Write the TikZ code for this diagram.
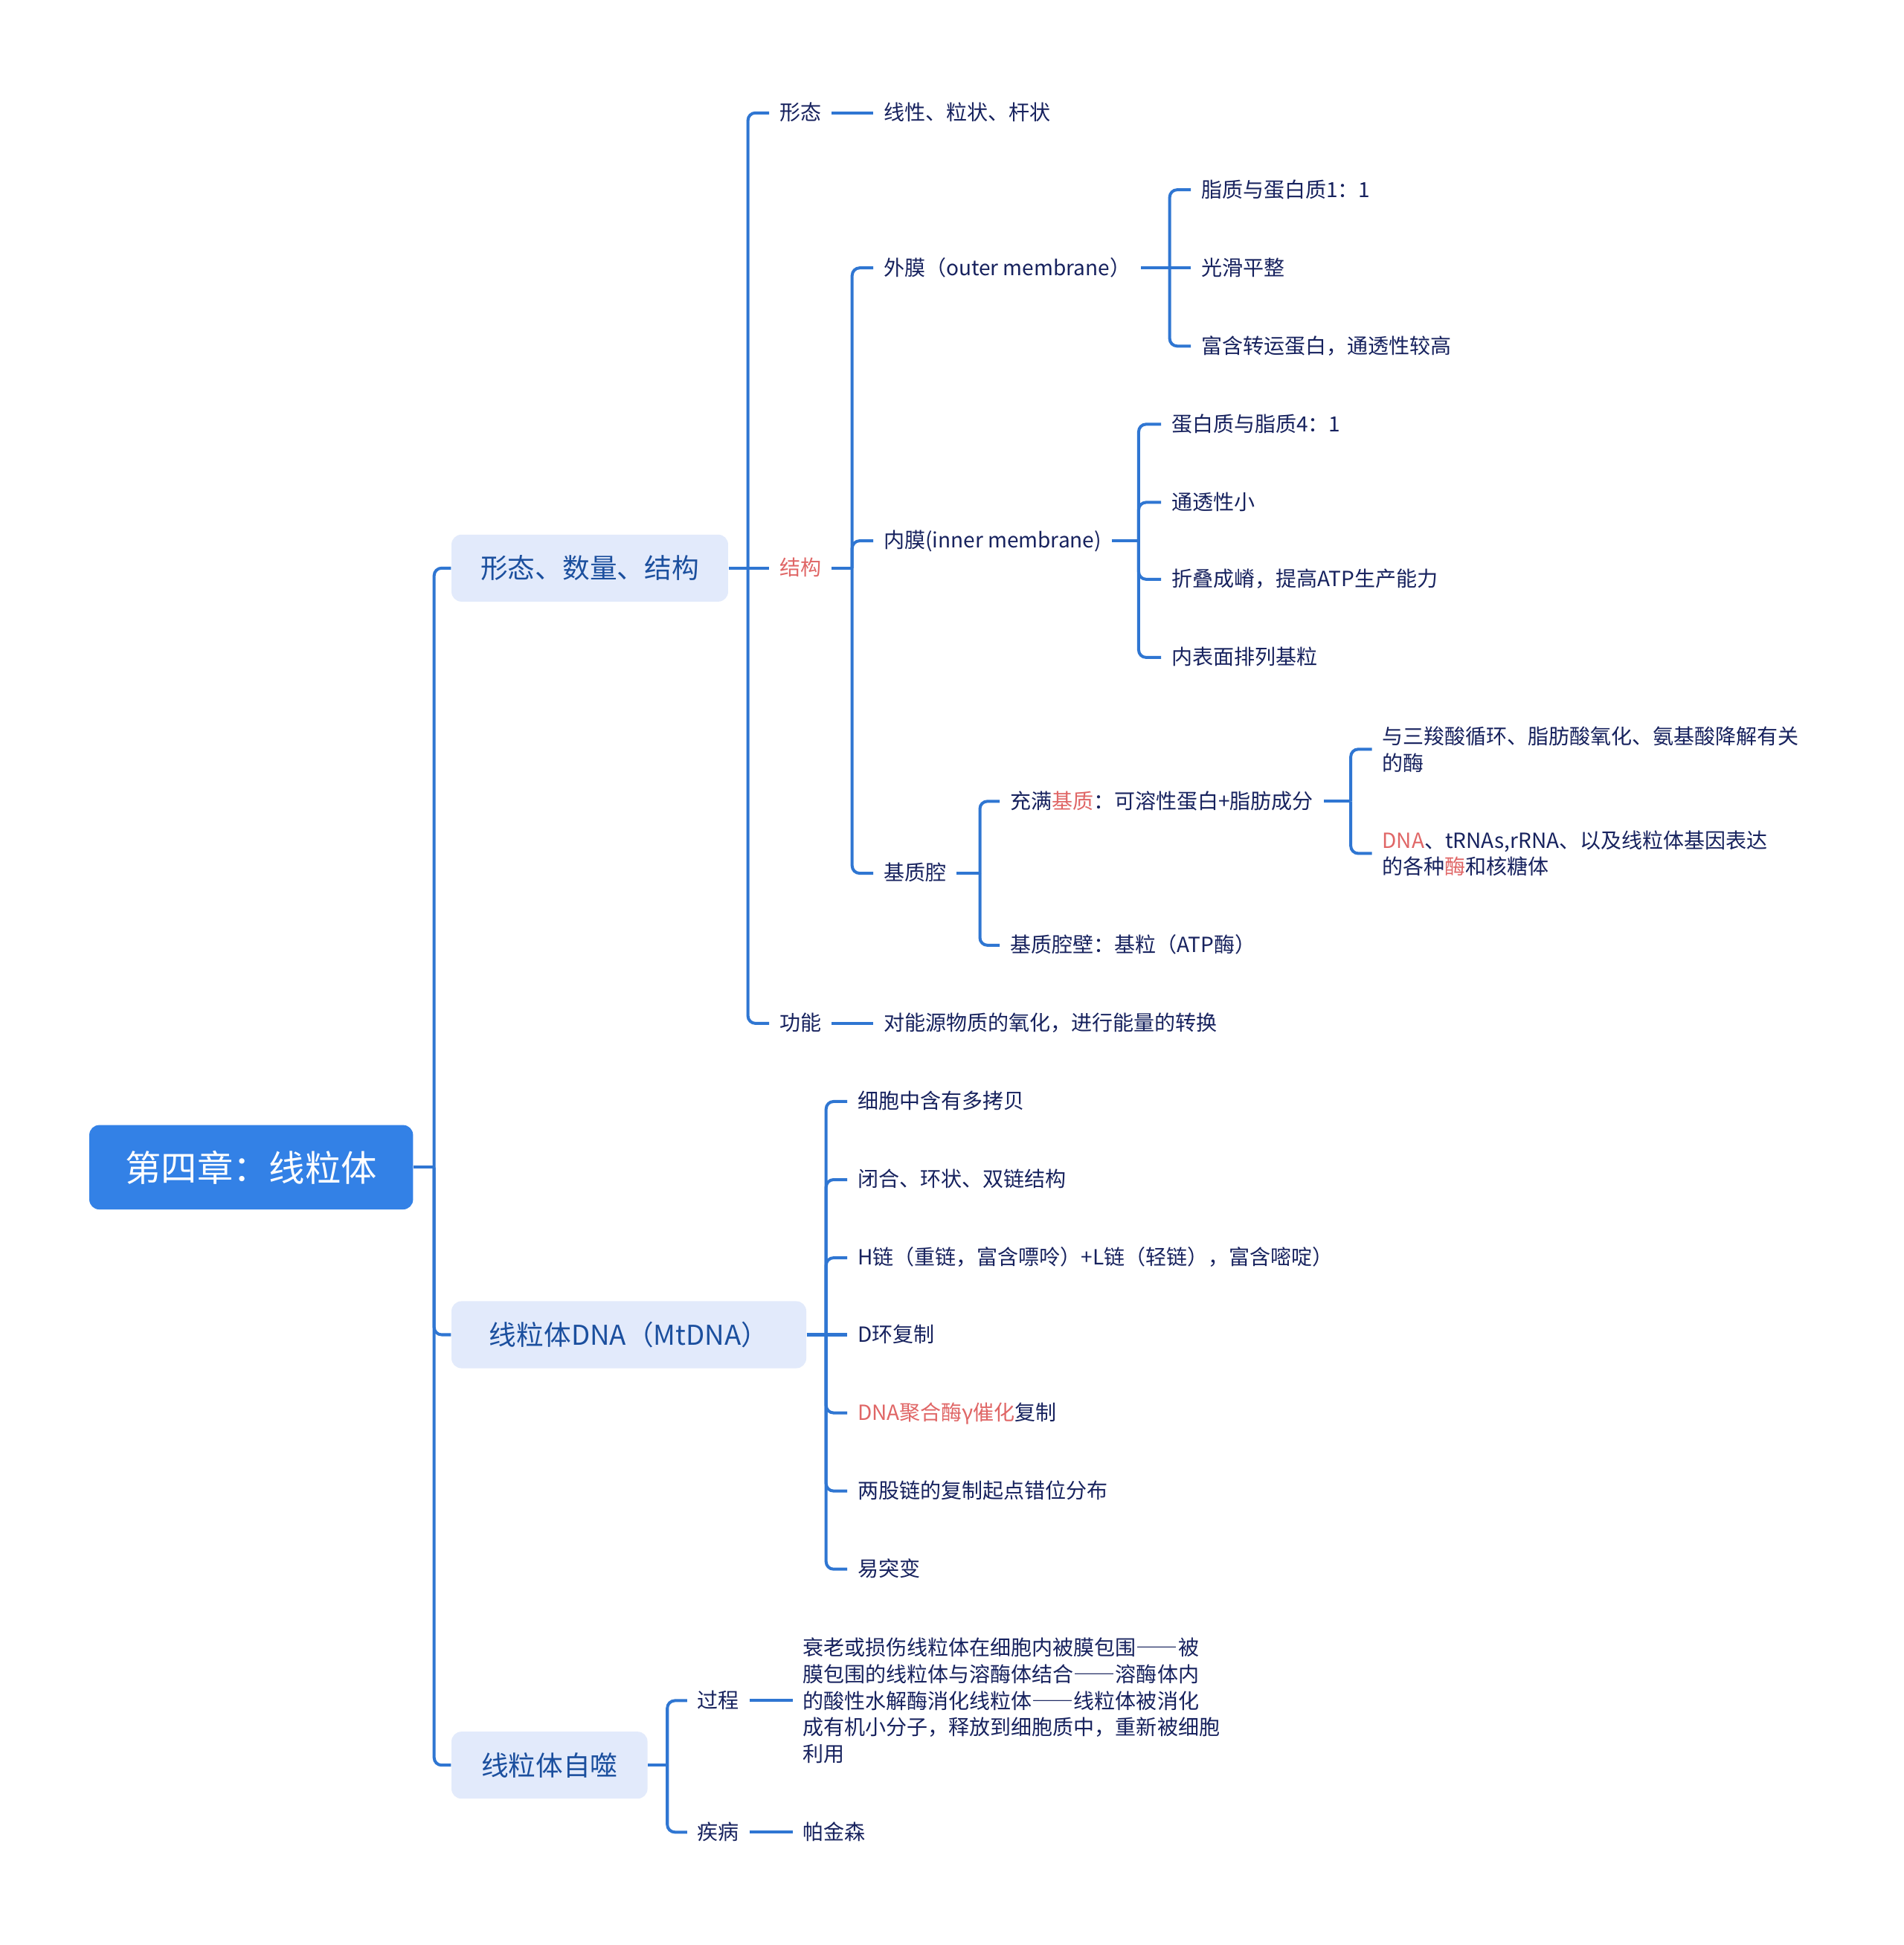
\documentclass[tikz,border=0pt]{standalone}
\usepackage{fontspec}
\setmainfont{Noto Sans CJK SC}
\usepackage{xcolor}
\usepackage{tikz}
\usetikzlibrary{positioning}

\definecolor{linkblue}{HTML}{2F76D2}
\definecolor{rootblue}{HTML}{3381E6}
\definecolor{topicfill}{HTML}{E2EAFB}
\definecolor{topicblue}{HTML}{1B4F9E}
\definecolor{leafnavy}{HTML}{17225E}
\definecolor{hotred}{HTML}{E06666}
\newcommand{\hot}[1]{\textcolor{hotred}{#1}}
\newcommand{\longdash}{{\addfontfeature{RawFeature=+fwid}——}}

\begin{document}
\begin{tikzpicture}[
      x=0.5pt, y=-0.5pt,
      mainbox/.style={fill=rootblue, text=white, rounded corners=4pt,
                      font=\fontsize{14.5}{17}\selectfont, inner sep=0pt,
                      minimum width=130.5pt, minimum height=34pt},
      topicbox/.style={fill=topicfill, text=topicblue, rounded corners=4pt,
                       font=\fontsize{11}{13}\selectfont, inner sep=0pt,
                       minimum height=27pt},
      leaf/.style={anchor=west, text=leafnavy, inner xsep=4pt, inner ysep=1pt,
                   font=\fontsize{8.4}{10.75}\selectfont,
                   text height=6.8pt, text depth=0.9pt},
      leafpara/.style={anchor=west, text=leafnavy, inner xsep=4pt, inner ysep=0pt,
                       font=\fontsize{8.4}{10.75}\selectfont, align=left},
      link/.style={draw=linkblue, line width=1.2pt, rounded corners=3pt}]

    \fill[white] (0,0) rectangle (1535,1568);

    % root and main topics
    \node[mainbox] (chapter) at (202.5,941) {第四章：线粒体};
    \node[topicbox, minimum width=111.5pt] (shape) at (475.5,458) {形态、数量、结构};
    \node[topicbox, minimum width=143pt] (mtdna) at (507,1076) {线粒体DNA（MtDNA）};
    \node[topicbox, minimum width=79pt] (autophagy) at (443,1423) {线粒体自噬};

    \coordinate (chapterfork) at (350,941);
    \draw[link] (chapter.east) -- (chapterfork);
    \foreach \t in {shape,mtdna,autophagy}
      \draw[link] (chapterfork) |- (\t.west);

    % form, number, structure
    \node[leaf] (form) at (620,91) {形态};
    \node[leaf, text=hotred] (struct) at (620,458) {结构};
    \node[leaf] (func) at (620,825) {功能};
    \coordinate (shapefork) at (603,458);
    \draw[link] (shape.east) -- (struct.west);
    \foreach \t in {form,func}
      \draw[link] (shapefork) |- (\t.west);

    \node[leaf] (formtxt) at (704,91) {线性、粒状、杆状};
    \draw[link] (form.east) -- (formtxt.west);
    \node[leaf] (functxt) at (704,825) {对能源物质的氧化，进行能量的转换};
    \draw[link] (func.east) -- (functxt.west);

    \node[leaf] (outer) at (704,216) {外膜（outer membrane）};
    \node[leaf] (inner) at (704,436) {内膜(inner membrane)};
    \node[leaf] (matrix) at (704,704) {基质腔};
    \coordinate (structfork) at (687,458);
    \draw[link] (struct.east) -- (structfork);
    \foreach \t in {outer,inner,matrix}
      \draw[link] (structfork) |- (\t.west);

    \node[leaf] (o1) at (960,153) {脂质与蛋白质1：1};
    \node[leaf] (o2) at (960,216) {光滑平整};
    \node[leaf] (o3) at (960,279) {富含转运蛋白，通透性较高};
    \coordinate (outerfork) at (943,216);
    \draw[link] (outer.east) -- (o2.west);
    \foreach \t in {o1,o3}
      \draw[link] (outerfork) |- (\t.west);

    \node[leaf] (i1) at (936,342) {蛋白质与脂质4：1};
    \node[leaf] (i2) at (936,405) {通透性小};
    \node[leaf] (i3) at (936,467) {折叠成嵴，提高ATP生产能力};
    \node[leaf] (i4) at (936,530) {内表面排列基粒};
    \coordinate (innerfork) at (918,436);
    \draw[link] (inner.east) -- (innerfork);
    \foreach \t in {i1,i2,i3,i4}
      \draw[link] (innerfork) |- (\t.west);

    \node[leaf] (m1) at (806,646) {充满\hot{基质}：可溶性蛋白+脂肪成分};
    \node[leaf] (m2) at (806,762) {基质腔壁：基粒（ATP酶）};
    \coordinate (matrixfork) at (790,704);
    \draw[link] (matrix.east) -- (matrixfork);
    \foreach \t in {m1,m2}
      \draw[link] (matrixfork) |- (\t.west);

    \node[leafpara] (e1) at (1106,604)
      {与三羧酸循环、脂肪酸氧化、氨基酸降解有关\\的酶};
    \node[leafpara] (e2) at (1106,688)
      {\hot{DNA}、tRNAs,rRNA、以及线粒体基因表达\\的各种\hot{酶}和核糖体};
    \coordinate (m1fork) at (1089,646);
    \draw[link] (m1.east) -- (m1fork);
    \foreach \t in {e1,e2}
      \draw[link] (m1fork) |- (\t.west);

    % mtDNA
    \node[leaf] (d1) at (683,888) {细胞中含有多拷贝};
    \node[leaf] (d2) at (683,951) {闭合、环状、双链结构};
    \node[leaf] (d3) at (683,1014) {H链（重链，富含嘌呤）+L链（轻链），富含嘧啶）};
    \node[leaf] (d4) at (683,1076) {D环复制};
    \node[leaf] (d5) at (683,1139) {\hot{DNA聚合酶γ催化}复制};
    \node[leaf] (d6) at (683,1202) {两股链的复制起点错位分布};
    \node[leaf] (d7) at (683,1265) {易突变};
    \coordinate (mtdnafork) at (666,1076);
    \draw[link] (mtdna.east) -- (d4.west);
    \foreach \t in {d1,d2,d3,d5,d6,d7}
      \draw[link] (mtdnafork) |- (\t.west);

    % autophagy
    \node[leaf] (proc) at (554,1371) {过程};
    \node[leaf] (disease) at (554,1477) {疾病};
    \coordinate (autofork) at (538,1423);
    \draw[link] (autophagy.east) -- (autofork);
    \foreach \t in {proc,disease}
      \draw[link] (autofork) |- (\t.west);

    \node[leafpara] (proctxt) at (639,1371)
      {衰老或损伤线粒体在细胞内被膜包围\longdash 被\\
       膜包围的线粒体与溶酶体结合\longdash 溶酶体内\\
       的酸性水解酶消化线粒体\longdash 线粒体被消化\\
       成有机小分子，释放到细胞质中，重新被细胞\\
       利用};
    \draw[link] (proc.east) -- (proctxt.west);
    \node[leaf] (diseasetxt) at (639,1477) {帕金森};
    \draw[link] (disease.east) -- (diseasetxt.west);
  \end{tikzpicture}
\end{document}
